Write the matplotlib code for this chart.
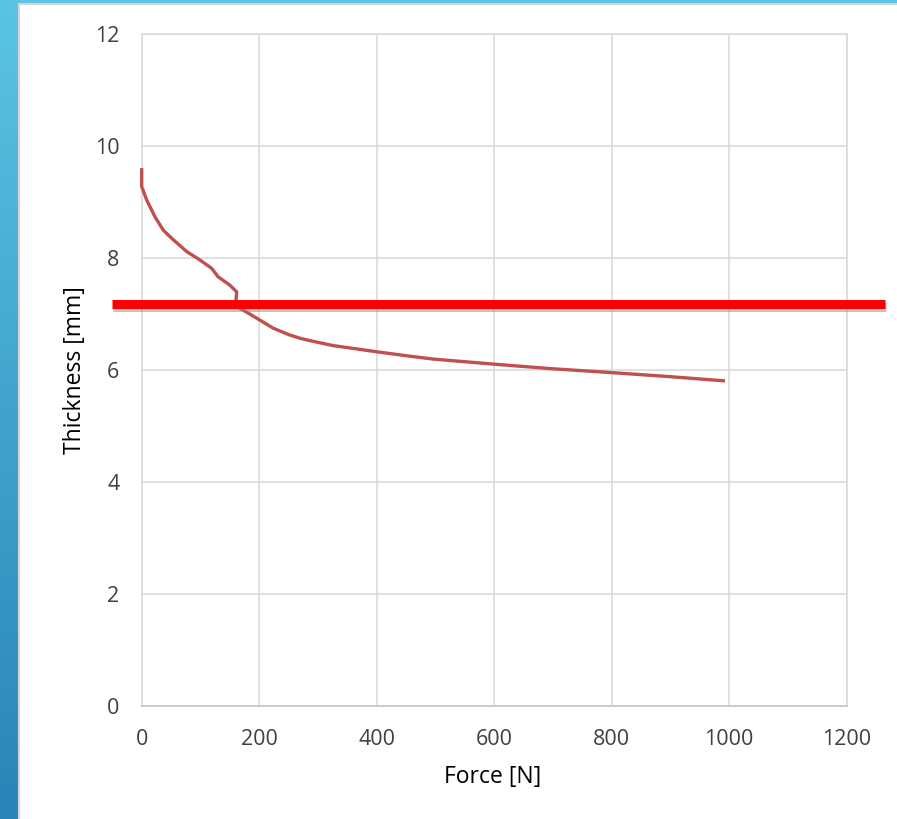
import numpy as np
import matplotlib
matplotlib.use('Agg')
import matplotlib.pyplot as plt
import matplotlib.patheffects as pe
from matplotlib.patches import Rectangle

plt.rcParams['font.family'] = ['Open Sans', 'DejaVu Sans']

force = [0, 0, 8.5, 22.6, 36.8, 53.8, 76.6, 99, 119, 130, 150, 161.7, 160.5, 167,
         195.7, 224, 252, 270, 286, 326, 360, 400, 450, 496, 598.5, 695, 797, 893.6, 993]
thickness = [9.60, 9.27, 9.03, 8.73, 8.49, 8.32, 8.11, 7.96, 7.81, 7.66, 7.51, 7.39, 7.24, 7.10,
             6.92, 6.74, 6.62, 6.56, 6.52, 6.43, 6.38, 6.32, 6.25, 6.19, 6.10, 6.02, 5.95, 5.88, 5.80]

# red threshold line drawn over the chart
limit_x = [-51, 1265]
limit_y = [7.17, 7.17]

x_ticks = [0, 200, 400, 600, 800, 1000, 1200]
y_ticks = [0, 2, 4, 6, 8, 10, 12]

W, H = 897, 819
fig = plt.figure(figsize=(W / 100, H / 100), dpi=100)

# blue gradient backdrop
bg = fig.add_axes([0, 0, 1, 1], zorder=-10)
grad = np.linspace(0, 1, 256).reshape(-1, 1)
top = np.array([0x5b, 0xc4, 0xe3]) / 255
bot = np.array([0x29, 0x84, 0xb7]) / 255
img = top + (bot - top) * grad[:, :, None]
bg.imshow(img, aspect='auto', extent=[0, 1, 0, 1], origin='upper')
bg.set_xlim(0, 1)
bg.set_ylim(0, 1)
bg.axis('off')
bg.add_patch(Rectangle((19 / W, -0.01), 1, 1 - 4 / H + 0.01, facecolor='white',
                       edgecolor='#d4d4d4', linewidth=1.5))

ax = fig.add_axes([141.7 / W, 1 - 705.7 / H, 705 / W, 672 / H])
ax.set_facecolor('none')
ax.plot(force, thickness, color='#c0504d', lw=2.4, solid_capstyle='butt',
        solid_joinstyle='round', clip_on=False, zorder=3)
ax.plot(limit_x, limit_y, color='#ff0000', lw=6.5, clip_on=False, zorder=4,
        solid_capstyle='butt',
        path_effects=[pe.SimpleLineShadow(offset=(1, -2), shadow_color='#888888', alpha=0.5),
                      pe.Normal()])

ax.set_xlim(0, 1200)
ax.set_ylim(0, 12)
ax.set_xticks(x_ticks)
ax.set_yticks(y_ticks)
ax.grid(True, color='#d9d9d9', lw=1.1)
ax.set_axisbelow(True)
for s in ['left', 'top', 'right']:
    ax.spines[s].set_color('#d9d9d9')
    ax.spines[s].set_linewidth(1.1)
ax.spines['bottom'].set_color('#c8c8c8')
ax.spines['bottom'].set_linewidth(1.3)
ax.tick_params(length=0, labelsize=15.5, colors='#404040')
ax.tick_params(axis='y', pad=16)
ax.tick_params(axis='x', pad=17)
ax.set_xlabel('Force [N]', fontsize=16.5, color='#000000')
ax.set_ylabel('Thickness [mm]', fontsize=16.5, color='#000000')
ax.xaxis.set_label_coords(0.498, -0.088)
ax.yaxis.set_label_coords(-0.078, 0.5)

fig.savefig('out.png', dpi=100)
